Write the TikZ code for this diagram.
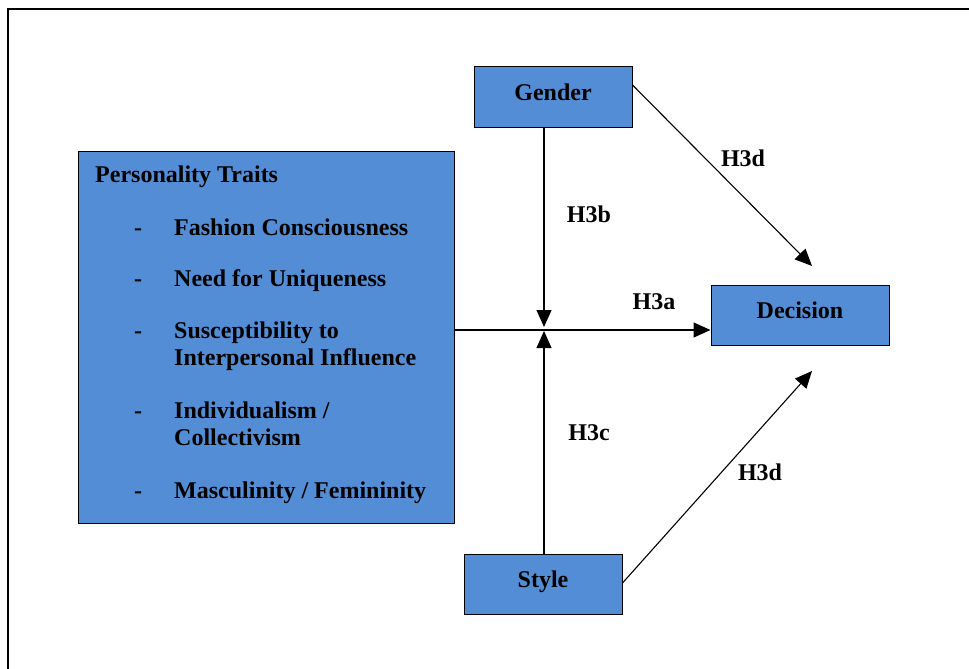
\documentclass[tikz,border=0pt]{standalone}
\usepackage{fontspec}
\setmainfont{Liberation Serif}
\usetikzlibrary{arrows.meta}
\definecolor{boxblue}{RGB}{83,141,213}
\begin{document}
\begin{tikzpicture}[x=1pt,y=-1pt,
  box/.style={draw=black,line width=1pt,fill=boxblue,inner sep=0pt},
  txt/.style={font=\bfseries\fontsize{24}{28}\selectfont,inner sep=0pt,text height=0.8em,text depth=0.14em,yshift=-5pt},
  item/.style={txt,anchor=west},
  conn/.style={line width=1.1pt,-{Triangle[length=17pt,width=15pt]}}]
\useasboundingbox (0,0) rectangle (969,669);
% outer frame (top and left edges)
\draw[line width=2.2pt] (8,669) -- (8,9) -- (969,9);

% boxes
\node[box,minimum width=158pt,minimum height=60pt] (gender) at (553,97) {};
\node[txt] (gendertxt) at (553,92) {Gender};
\node[box,minimum width=178pt,minimum height=60pt] (decision) at (800,315) {};
\node[txt] (decisiontxt) at (800,310) {Decision};
\node[box,minimum width=158pt,minimum height=60pt] (style) at (543,584) {};
\node[txt] (styletxt) at (543,579) {Style};
\node[box,minimum width=376pt,minimum height=372pt] (traits) at (266,337) {};

% trait list
\node[item] (title) at (95,174) {Personality Traits};
\node[item] (d1) at (134,227) {-};
\node[item] (t1) at (174,227) {Fashion Consciousness};
\node[item] (d2) at (134,278) {-};
\node[item] (t2) at (174,278) {Need for Uniqueness};
\node[item] (d3) at (134,330) {-};
\node[item] (t3a) at (174,330) {Susceptibility to};
\node[item] (t3b) at (174,357) {Interpersonal Influence};
\node[item] (d4) at (134,410) {-};
\node[item] (t4a) at (174,410) {Individualism /};
\node[item] (t4b) at (174,437) {Collectivism};
\node[item] (d5) at (134,490) {-};
\node[item] (t5) at (174,490) {Masculinity / Femininity};

% connector points
\coordinate (jtop) at (544,327);
\coordinate (jbot) at (544,331);
\coordinate (dtop) at (812,266);
\coordinate (dbot) at (812,371);

\draw[conn] (traits.east |- 0,330) -- (decision.west |- 0,330);
\draw[conn] (gender.south -| jtop) -- (jtop);
\draw[conn] (style.north -| jbot) -- (jbot);
\draw[conn] (gender.east |- 0,85) -- (dtop);
\draw[conn] (style.east |- 0,583) -- (dbot);

% hypothesis labels
\node[txt] (h3d1) at (743,158) {H3d};
\node[txt] (h3b) at (589,214) {H3b};
\node[txt] (h3a) at (654,301) {H3a};
\node[txt] (h3c) at (589,432) {H3c};
\node[txt] (h3d2) at (760,472) {H3d};
\end{tikzpicture}
\end{document}
